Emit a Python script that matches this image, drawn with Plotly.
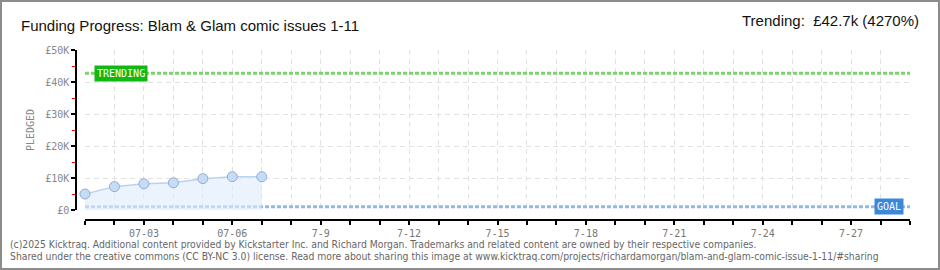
import plotly.graph_objects as go

# ---- data ----
dates = ["2025-07-01", "2025-07-02", "2025-07-03", "2025-07-04", "2025-07-05", "2025-07-06", "2025-07-07"]
pledged = [5000, 7300, 8200, 8500, 9800, 10400, 10400]
goal = 1000
trending = 42700
x_start, x_end = "2025-07-01", "2025-07-29"
tick_dates = ["2025-07-03", "2025-07-06", "2025-07-09", "2025-07-12", "2025-07-15",
              "2025-07-18", "2025-07-21", "2025-07-24", "2025-07-27"]
tick_labels = ["07-03", "07-06", "7-9", "7-12", "7-15", "7-18", "7-21", "7-24", "7-27"]
y_ticks = [0, 10000, 20000, 30000, 40000, 50000]
y_labels = ["£0", "£10K", "£20K", "£30K", "£40K", "£50K"]

W, H = 940, 270
L, R, T, B = 76, 30, 50, 50
PW, PH = W - L - R, H - T - B


def px(x):
    return (x - L) / PW


def py(y):
    return (H - B - y) / PH


PIX = "DejaVu Sans Mono, monospace"
TITLE_FONT = "Liberation Sans, Arial, sans-serif"
FOOT_FONT = "DejaVu Sans Condensed, Liberation Sans, sans-serif"

fig = go.Figure()

# trending line
fig.add_trace(go.Scatter(x=[x_start, x_end], y=[trending, trending], mode="lines",
                         line=dict(color="#7bd46a", width=3, dash="4px,2px"),
                         hoverinfo="skip", showlegend=False))
# goal line
fig.add_trace(go.Scatter(x=[x_start, x_end], y=[goal, goal], mode="lines",
                         line=dict(color="#92b8e6", width=3, dash="4px,2px"),
                         hoverinfo="skip", showlegend=False))
# pledged series
fig.add_trace(go.Scatter(x=dates, y=pledged, mode="lines+markers",
                         line=dict(color="#b8d2f0", width=1.5),
                         fill="tozeroy", fillcolor="rgba(222,236,251,0.6)",
                         marker=dict(size=10, color="#c6dcf6", line=dict(color="#93acd0", width=1)),
                         cliponaxis=False, showlegend=False))

fig.update_layout(
    width=W, height=H,
    margin=dict(l=L, r=R, t=T, b=B),
    paper_bgcolor="white", plot_bgcolor="white",
    showlegend=False,
    xaxis=dict(
        type="date", range=[x_start, x_end],
        domain=[9 / PW, 1], anchor="free", position=0,
        tickvals=tick_dates, ticktext=tick_labels,
        ticks="outside", ticklen=4, tickcolor="black", tickwidth=1.5,
        showline=True, linecolor="black", linewidth=1.5,
        showgrid=True, gridcolor="#e2e2e2", griddash="5px,4px", gridwidth=1,
        minor=dict(dtick=86400000, ticks="outside", ticklen=4, tickcolor="black", tickwidth=1.5,
                   showgrid=True, gridcolor="#e2e2e2", griddash="5px,4px"),
        tickfont=dict(family=PIX, size=10, color="#777"),
        zeroline=False,
    ),
    yaxis=dict(
        range=[0, 50000], domain=[10 / PH, 1], anchor="free", position=0,
        tickvals=y_ticks, ticktext=y_labels,
        ticks="outside", ticklen=4, tickcolor="black", tickwidth=1.5,
        showline=True, linecolor="black", linewidth=1.5,
        showgrid=True, gridcolor="#e2e2e2", griddash="5px,4px",
        minor=dict(dtick=5000, ticks="outside", ticklen=3, tickcolor="red", tickwidth=1, showgrid=False),
        tickfont=dict(family=PIX, size=10, color="#888"),
        title=dict(text="PLEDGED", font=dict(family=PIX, size=10, color="#888"), standoff=8),
        zeroline=False,
    ),
    annotations=[
        dict(text="Funding Progress: Blam &amp; Glam comic issues 1-11", xref="paper", yref="paper",
             x=px(19), y=py(25), xanchor="left", yanchor="middle", showarrow=False,
             font=dict(family=TITLE_FONT, size=15, color="#111")),
        dict(text="Trending:  £42.7k (4270%)", xref="paper", yref="paper",
             x=px(921), y=py(21), xanchor="right", yanchor="middle", showarrow=False,
             font=dict(family=TITLE_FONT, size=15, color="#111")),
        dict(text="TRENDING", xref="paper", yref="y", x=px(120.5), y=trending,
             xanchor="center", yanchor="middle", showarrow=False,
             bgcolor="#12b812", borderpad=2, font=dict(family=PIX, size=10, color="white")),
        dict(text="GOAL", xref="paper", yref="y", x=px(889), y=goal,
             xanchor="center", yanchor="middle", showarrow=False,
             bgcolor="#3b87d9", borderpad=2, font=dict(family=PIX, size=10, color="white")),
        dict(text="(c)2025 Kicktraq. Additional content provided by Kickstarter Inc. and Richard Morgan. Trademarks and related content are owned by their respective companies.",
             xref="paper", yref="paper", x=px(8), y=py(244), xanchor="left", yanchor="middle",
             showarrow=False, font=dict(family=FOOT_FONT, size=10.3, color="#666")),
        dict(text="Shared under the creative commons (CC BY-NC 3.0) license. Read more about sharing this image at www.kicktraq.com/projects/richardamorgan/blam-and-glam-comic-issue-1-11/#sharing",
             xref="paper", yref="paper", x=px(8), y=py(256), xanchor="left", yanchor="middle",
             showarrow=False, font=dict(family=FOOT_FONT, size=10.3, color="#666")),
    ],
    shapes=[
        dict(type="rect", xref="paper", yref="paper", x0=px(1), x1=px(939), y0=py(269), y1=py(1),
             line=dict(color="#8c8c8c", width=2), fillcolor="rgba(0,0,0,0)", layer="above"),
    ],
)

fig.write_html("out.html")
